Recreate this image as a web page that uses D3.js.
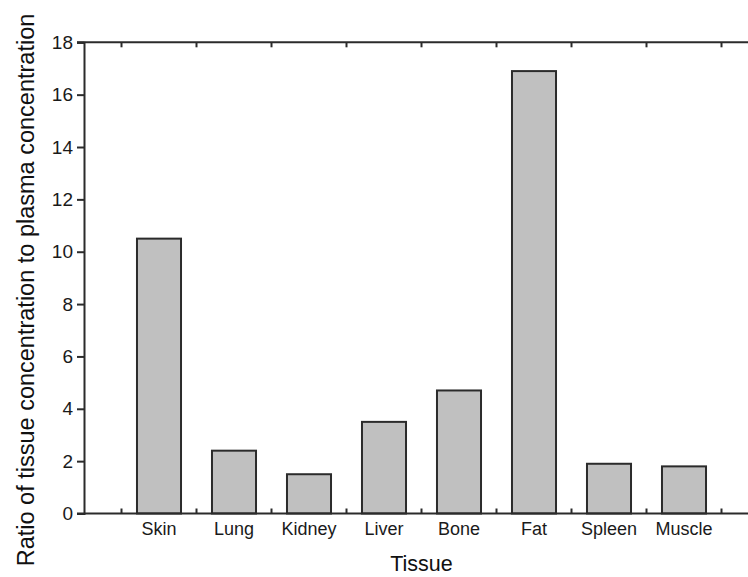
<!DOCTYPE html>
<html>
<head>
<meta charset="utf-8">
<script src="https://cdn.jsdelivr.net/npm/d3@7"></script>
<style>
  html, body { margin: 0; padding: 0; background: #fff; overflow: hidden; }
  svg { display: block; font-family: "Liberation Sans", Arial, sans-serif; }
</style>
</head>
<body>
<svg id="chart" width="748" height="577"></svg>
<script>
// Tissue-to-plasma concentration ratios
const tissues = ["Skin", "Lung", "Kidney", "Liver", "Bone", "Fat", "Spleen", "Muscle"];
const ratios = [10.5, 2.4, 1.5, 3.5, 4.7, 16.9, 1.9, 1.8];
const yTicks = [0, 2, 4, 6, 8, 10, 12, 14, 16, 18];

const svg = d3.select("#chart");
const plotLeft = 84, plotTop = 42.3, plotBottom = 513.5;
const step = 75;
const plotRight = plotLeft + step * (tissues.length + 1);   // frame runs past the window edge
const ink = "#2b2b2b";

const y = d3.scaleLinear().domain([0, 18]).range([plotBottom, plotTop]);
const x = d3.scaleBand()
  .domain(tissues)
  .range([plotLeft + step / 2, plotLeft + step / 2 + step * tissues.length])
  .paddingInner(0.413)
  .paddingOuter(0.2065);

// boundaries between category slots, used for the small frame ticks
const slotEdges = d3.range(tissues.length + 1).map(k => plotLeft + step / 2 + step * k);

// bars
svg.append("g").selectAll("rect")
  .data(tissues)
  .join("rect")
  .attr("x", d => x(d))
  .attr("y", (d, i) => y(ratios[i]))
  .attr("width", x.bandwidth())
  .attr("height", (d, i) => y(0) - y(ratios[i]))
  .attr("fill", "#c0c0c0")
  .attr("stroke", ink)
  .attr("stroke-width", 2);

// left axis
const yAxis = d3.axisLeft(y).tickValues(yTicks).tickSize(7).tickPadding(4).tickFormat(d3.format("d"));
const gy = svg.append("g").attr("transform", `translate(${plotLeft},0)`).call(yAxis);
gy.select(".domain").attr("stroke", ink).attr("stroke-width", 2);
gy.selectAll(".tick line").attr("stroke", ink).attr("stroke-width", 2);
gy.selectAll(".tick text").attr("fill", "#1a1a1a").style("font-size", "19px")
  .attr("font-family", "Liberation Sans, Arial, sans-serif");

// bottom axis: category labels under bars, small inward ticks at slot edges
const gx = svg.append("g").attr("transform", `translate(0,${plotBottom})`)
  .call(d3.axisBottom(x).tickSize(0).tickPadding(9));
gx.select(".domain").remove();
gx.selectAll(".tick text").attr("fill", "#1a1a1a").style("font-size", "18px")
  .attr("font-family", "Liberation Sans, Arial, sans-serif");

const frame = svg.append("g").attr("stroke", ink).attr("stroke-width", 2).attr("fill", "none");
frame.append("line").attr("x1", plotLeft - 7).attr("x2", plotRight).attr("y1", plotBottom).attr("y2", plotBottom);
frame.append("line").attr("x1", plotLeft - 7).attr("x2", plotRight).attr("y1", plotTop).attr("y2", plotTop);
frame.selectAll(".bt").data(slotEdges).join("line").attr("class", "bt")
  .attr("x1", d => d).attr("x2", d => d).attr("y1", plotBottom).attr("y2", plotBottom - 5);
frame.selectAll(".tt").data(slotEdges).join("line").attr("class", "tt")
  .attr("x1", d => d).attr("x2", d => d).attr("y1", plotTop).attr("y2", plotTop + 5);

// axis titles
svg.append("text")
  .attr("transform", "translate(34,290) rotate(-90)")
  .attr("text-anchor", "middle")
  .attr("fill", "#111")
  .style("font-size", "23.5px")
  .text("Ratio of tissue concentration to plasma concentration");

svg.append("text")
  .attr("x", (plotLeft + plotRight) / 2)
  .attr("y", 571)
  .attr("text-anchor", "middle")
  .attr("fill", "#111")
  .style("font-size", "21.5px")
  .text("Tissue");
</script>
</body>
</html>
